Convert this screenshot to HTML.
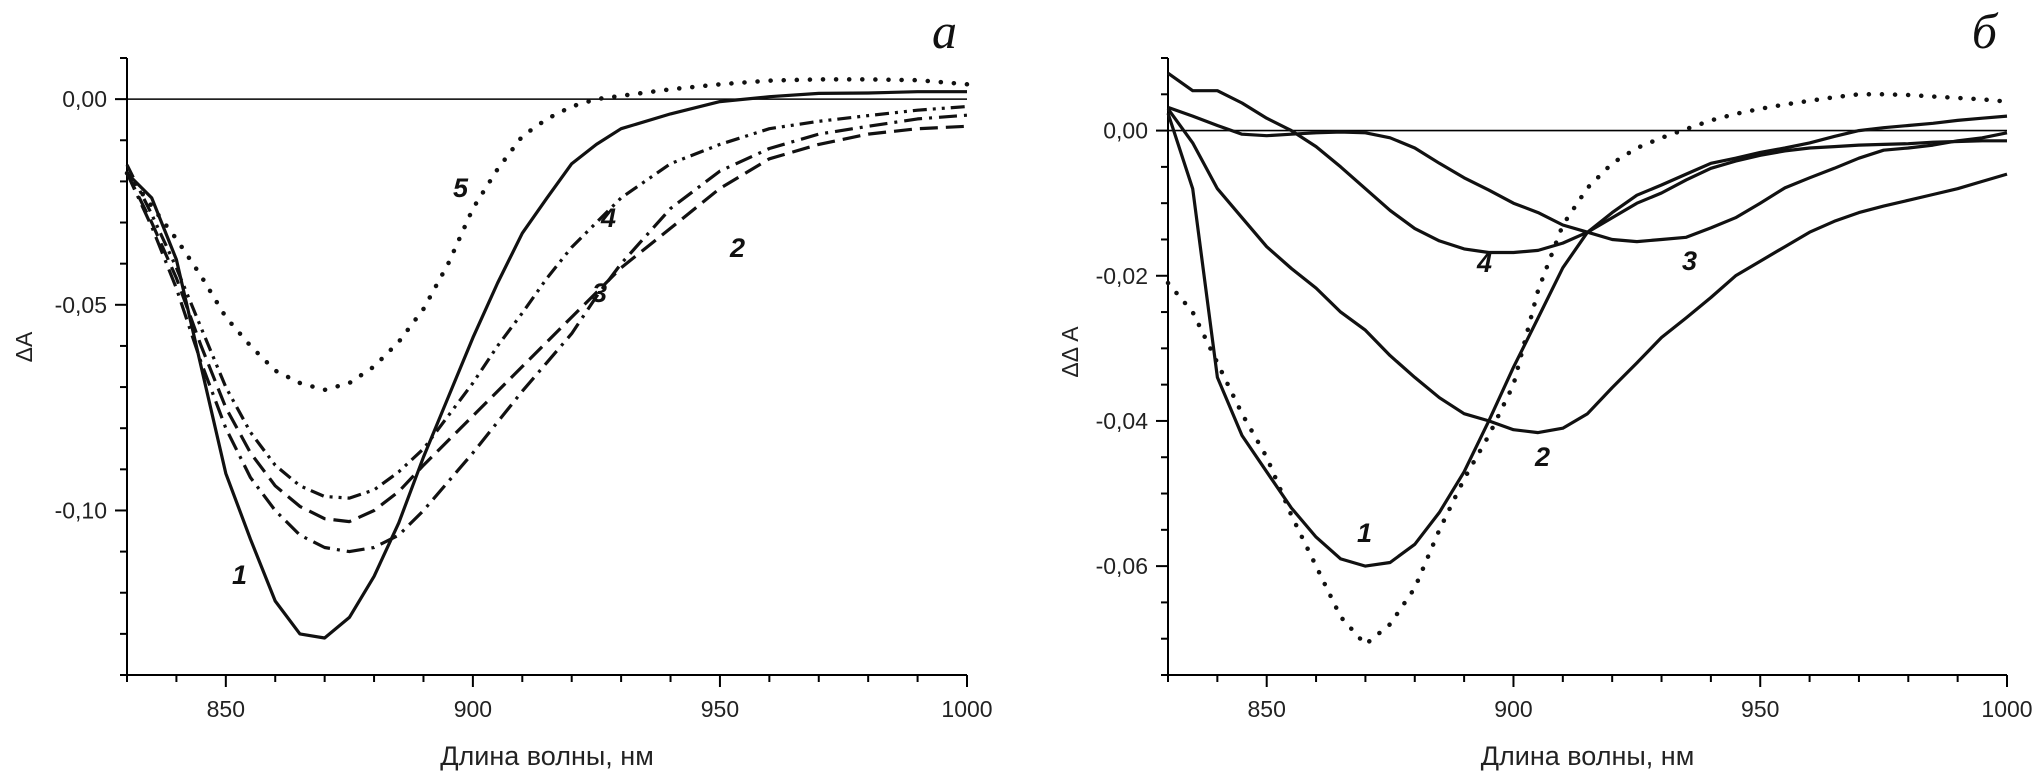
<!DOCTYPE html>
<html><head><meta charset="utf-8"><style>
html,body{margin:0;padding:0;background:#fff;}
svg{display:block;font-family:"Liberation Sans",sans-serif;}
.tl{font-size:23px;fill:#222;}
.cl{font-size:27px;font-weight:bold;font-style:italic;fill:#111;}
</style></head><body>
<svg id="chart" width="2043" height="775" viewBox="0 0 2043 775" xmlns="http://www.w3.org/2000/svg"></svg>
<script>
// ---- shared x data ----
const xTicks = [850, 900, 950, 1000];
// ---- panel a ----
const aNm = [830,835,840,845,850,855,860,865,870,875,880,885,890,895,900,905,910,915,920,925,930,940,950,960,970,980,990,1000];
const a1 = [-0.018,-0.024,-0.039,-0.065,-0.091,-0.107,-0.122,-0.130,-0.131,-0.126,-0.116,-0.103,-0.087,-0.0725,-0.058,-0.0447,-0.0326,-0.024,-0.0157,-0.011,-0.0072,-0.0036,-0.0006,0.0006,0.0014,0.0015,0.0018,0.0018];
const a2 = [-0.018,-0.030,-0.0435,-0.060,-0.075,-0.086,-0.094,-0.099,-0.102,-0.1027,-0.100,-0.0954,-0.089,-0.083,-0.077,-0.071,-0.065,-0.059,-0.053,-0.047,-0.041,-0.0314,-0.0217,-0.0145,-0.011,-0.0085,-0.0072,-0.0066];
const a3 = [-0.018,-0.031,-0.046,-0.064,-0.080,-0.092,-0.100,-0.106,-0.109,-0.110,-0.109,-0.106,-0.100,-0.093,-0.086,-0.0785,-0.071,-0.064,-0.057,-0.048,-0.040,-0.0266,-0.0175,-0.012,-0.0085,-0.0066,-0.0048,-0.0039];
const a4 = [-0.016,-0.028,-0.041,-0.0556,-0.070,-0.081,-0.089,-0.094,-0.0966,-0.097,-0.095,-0.0906,-0.085,-0.077,-0.069,-0.060,-0.052,-0.0435,-0.036,-0.030,-0.024,-0.0157,-0.011,-0.0072,-0.0054,-0.004,-0.0027,-0.0018];
const a5 = [-0.018,-0.026,-0.034,-0.043,-0.053,-0.060,-0.066,-0.069,-0.0707,-0.069,-0.065,-0.059,-0.051,-0.040,-0.0266,-0.017,-0.009,-0.0048,-0.0018,0,0.0008,0.0024,0.0036,0.0045,0.0048,0.0048,0.0046,0.0036];
const aYTicks = [0, -0.05, -0.10];
const aYLabels = ["0,00", "-0,05", "-0,10"];
// ---- panel b ----
const bNm = [830,835,840,845,850,855,860,865,870,875,880,885,890,895,900,905,910,915,920,925,930,935,940,945,950,955,960,965,970,975,980,985,990,995,1000];
const b1 = [0.0024,-0.008,-0.034,-0.042,-0.047,-0.052,-0.056,-0.059,-0.060,-0.0595,-0.057,-0.0526,-0.047,-0.040,-0.0326,-0.0258,-0.0189,-0.014,-0.0113,-0.0089,-0.0075,-0.006,-0.0045,-0.0038,-0.003,-0.0024,-0.0017,-0.0008,0,0.0004,0.0007,0.001,0.0014,0.0017,0.002];
const b2 = [0.003,-0.0017,-0.008,-0.012,-0.016,-0.019,-0.0217,-0.025,-0.0275,-0.031,-0.034,-0.0368,-0.039,-0.040,-0.0412,-0.0416,-0.041,-0.039,-0.0354,-0.032,-0.0285,-0.0258,-0.023,-0.020,-0.018,-0.016,-0.014,-0.0125,-0.0113,-0.0104,-0.0096,-0.0088,-0.008,-0.007,-0.006];
const b3 = [0.0032,0.002,0.0007,-0.0005,-0.0007,-0.0005,-0.0003,-0.0002,-0.0003,-0.001,-0.0024,-0.0045,-0.0065,-0.0082,-0.010,-0.0113,-0.013,-0.014,-0.015,-0.0153,-0.015,-0.0147,-0.0134,-0.012,-0.010,-0.0079,-0.0065,-0.0052,-0.0038,-0.0027,-0.0024,-0.002,-0.0014,-0.001,-0.0003];
const b4 = [0.0079,0.0055,0.0055,0.0038,0.0017,0,-0.0022,-0.005,-0.008,-0.011,-0.0135,-0.0152,-0.0163,-0.0168,-0.0168,-0.0165,-0.0155,-0.014,-0.012,-0.010,-0.0086,-0.0068,-0.0052,-0.0042,-0.0034,-0.0028,-0.0024,-0.0022,-0.002,-0.0019,-0.0018,-0.0016,-0.0015,-0.0014,-0.0014];
const b5 = [-0.021,-0.025,-0.032,-0.039,-0.045,-0.053,-0.060,-0.067,-0.0708,-0.068,-0.063,-0.055,-0.048,-0.042,-0.035,-0.022,-0.013,-0.0079,-0.0045,-0.0024,-0.001,0.0002,0.0014,0.0023,0.003,0.0036,0.0041,0.0046,0.005,0.005,0.0049,0.0047,0.0045,0.0043,0.004];
const bYTicks = [0, -0.02, -0.04, -0.06];
const bYLabels = ["0,00", "-0,02", "-0,04", "-0,06"];

const svg = document.getElementById('chart');
const NS = 'http://www.w3.org/2000/svg';
function mk(tag, attrs, parent) {
  const e = document.createElementNS(NS, tag);
  for (const k in attrs) e.setAttribute(k, attrs[k]);
  (parent || svg).appendChild(e);
  return e;
}
function panel(cfg) {
  const g = mk('g', {});
  
  
  const xs = v => cfg.x0 + (v - 830) / 170 * (cfg.x1 - cfg.x0);
  const ys = v => cfg.yTop + (cfg.yMax - v) / (cfg.yMax - cfg.yMin) * (cfg.yBot - cfg.yTop);
  // axes
  const ax = mk('path', {d: `M${cfg.x0},${cfg.yTop} V${cfg.yBot} H${cfg.x1}`, stroke: '#000', 'stroke-width': 2, fill: 'none'}, g);
  
  
  // zero line
  const zl = mk('line', {x1: cfg.x0, x2: cfg.x1, y1: ys(0), y2: ys(0), stroke: '#000', 'stroke-width': 1.6}, g);
  
  
  // x ticks
  for (let v = 830; v <= 1000; v += 10) {
    const major = v % 50 === 0;
    mk('line', {x1: xs(v), x2: xs(v), y1: cfg.yBot, y2: cfg.yBot + (major ? 12 : 7), stroke: '#000', 'stroke-width': 2}, g);
  }
  xTicks.forEach(v => {
    const t = mk('text', {x: xs(v), y: cfg.yBot + 42, 'text-anchor': 'middle', class: 'tl'}, g);
    t.textContent = v;
    
    
  });
  // y ticks
  const n = Math.round((cfg.yMax - cfg.yMin) / cfg.minor);
  for (let i = 0; i <= n; i++) {
    const v = cfg.yMax - i * cfg.minor;
    const major = cfg.yTicks.some(t => Math.abs(t - v) < 1e-9);
    mk('line', {x1: cfg.x0 - (major ? 12 : 7), x2: cfg.x0, y1: ys(v), y2: ys(v), stroke: '#000', 'stroke-width': 2}, g);
  }
  cfg.yTicks.forEach((v, i) => {
    const t = mk('text', {x: cfg.x0 - 20, y: ys(v) + 8, 'text-anchor': 'end', class: 'tl'}, g);
    t.textContent = cfg.yLabels[i];
    
    
  });
  // titles
  const xt = mk('text', {x: (cfg.x0 + cfg.x1) / 2, y: 765, 'text-anchor': 'middle', style: 'font-size:27px;fill:#222'}, g);
  xt.textContent = 'Длина волны, нм';
  
  
  const yt = mk('text', {x: 0, y: 0, 'text-anchor': 'middle', transform: `translate(${cfg.ylx},${cfg.yly}) rotate(-90)`, style: 'font-size:23px;fill:#222'}, g);
  yt.textContent = cfg.ylabel;
  
  
  const pl = mk('text', {x: cfg.x1 - 10, y: 48, 'text-anchor': 'end', style: 'font-family:"Liberation Serif",serif;font-style:italic;font-size:50px;fill:#111'}, g);
  pl.textContent = cfg.letter;
  
  
  // series
  cfg.series.forEach(s => {
    const d = cfg.nm.map((v, i) => (i ? 'L' : 'M') + xs(v).toFixed(1) + ',' + ys(s.vals[i]).toFixed(1)).join(' ');
    const p = mk('path', {d: d, fill: 'none', stroke: '#111', 'stroke-width': 3.2, 'stroke-linecap': s.dash === '0.1,13' ? 'round' : 'butt', 'stroke-linejoin': 'round'}, g);
    if (s.dash) p.setAttribute('stroke-dasharray', s.dash);
    if (s.dash === '0.1,13') p.setAttribute('stroke-width', 4.5);
    
    
  });
  cfg.labels.forEach(l => {
    const t = mk('text', {x: l[1], y: l[2], class: 'cl'}, g);
    t.textContent = l[0];
    
    
  });
}
panel({name: 'panel-a', x0: 127, x1: 967, yTop: 58, yBot: 675, yMax: 0.01, yMin: -0.14, minor: 0.01,
  yTicks: aYTicks, yLabels: aYLabels, nm: aNm, ylabel: 'ΔA', ylx: 32, yly: 347, letter: 'a',
  series: [{id: '1', vals: a1, dash: null}, {id: '2', vals: a2, dash: '18,8'}, {id: '3', vals: a3, dash: '18,7,3,7'}, {id: '4', vals: a4, dash: '14,6,3,6,3,6'}, {id: '5', vals: a5, dash: '0.1,13'}],
  labels: [['5', 453, 197], ['4', 601, 227], ['3', 592, 302], ['2', 730, 257], ['1', 232, 584]]});
panel({name: 'panel-b', x0: 1168, x1: 2007, yTop: 58, yBot: 675, yMax: 0.01, yMin: -0.075, minor: 0.005,
  yTicks: bYTicks, yLabels: bYLabels, nm: bNm, ylabel: 'ΔΔ A', ylx: 1078, yly: 352, letter: 'б',
  series: [{id: '1', vals: b1, dash: null}, {id: '2', vals: b2, dash: null}, {id: '3', vals: b3, dash: null}, {id: '4', vals: b4, dash: null}, {id: '5', vals: b5, dash: '0.1,13'}],
  labels: [['4', 1477, 272], ['3', 1682, 270], ['2', 1535, 466], ['1', 1357, 542]]});
</script>
</body></html>
